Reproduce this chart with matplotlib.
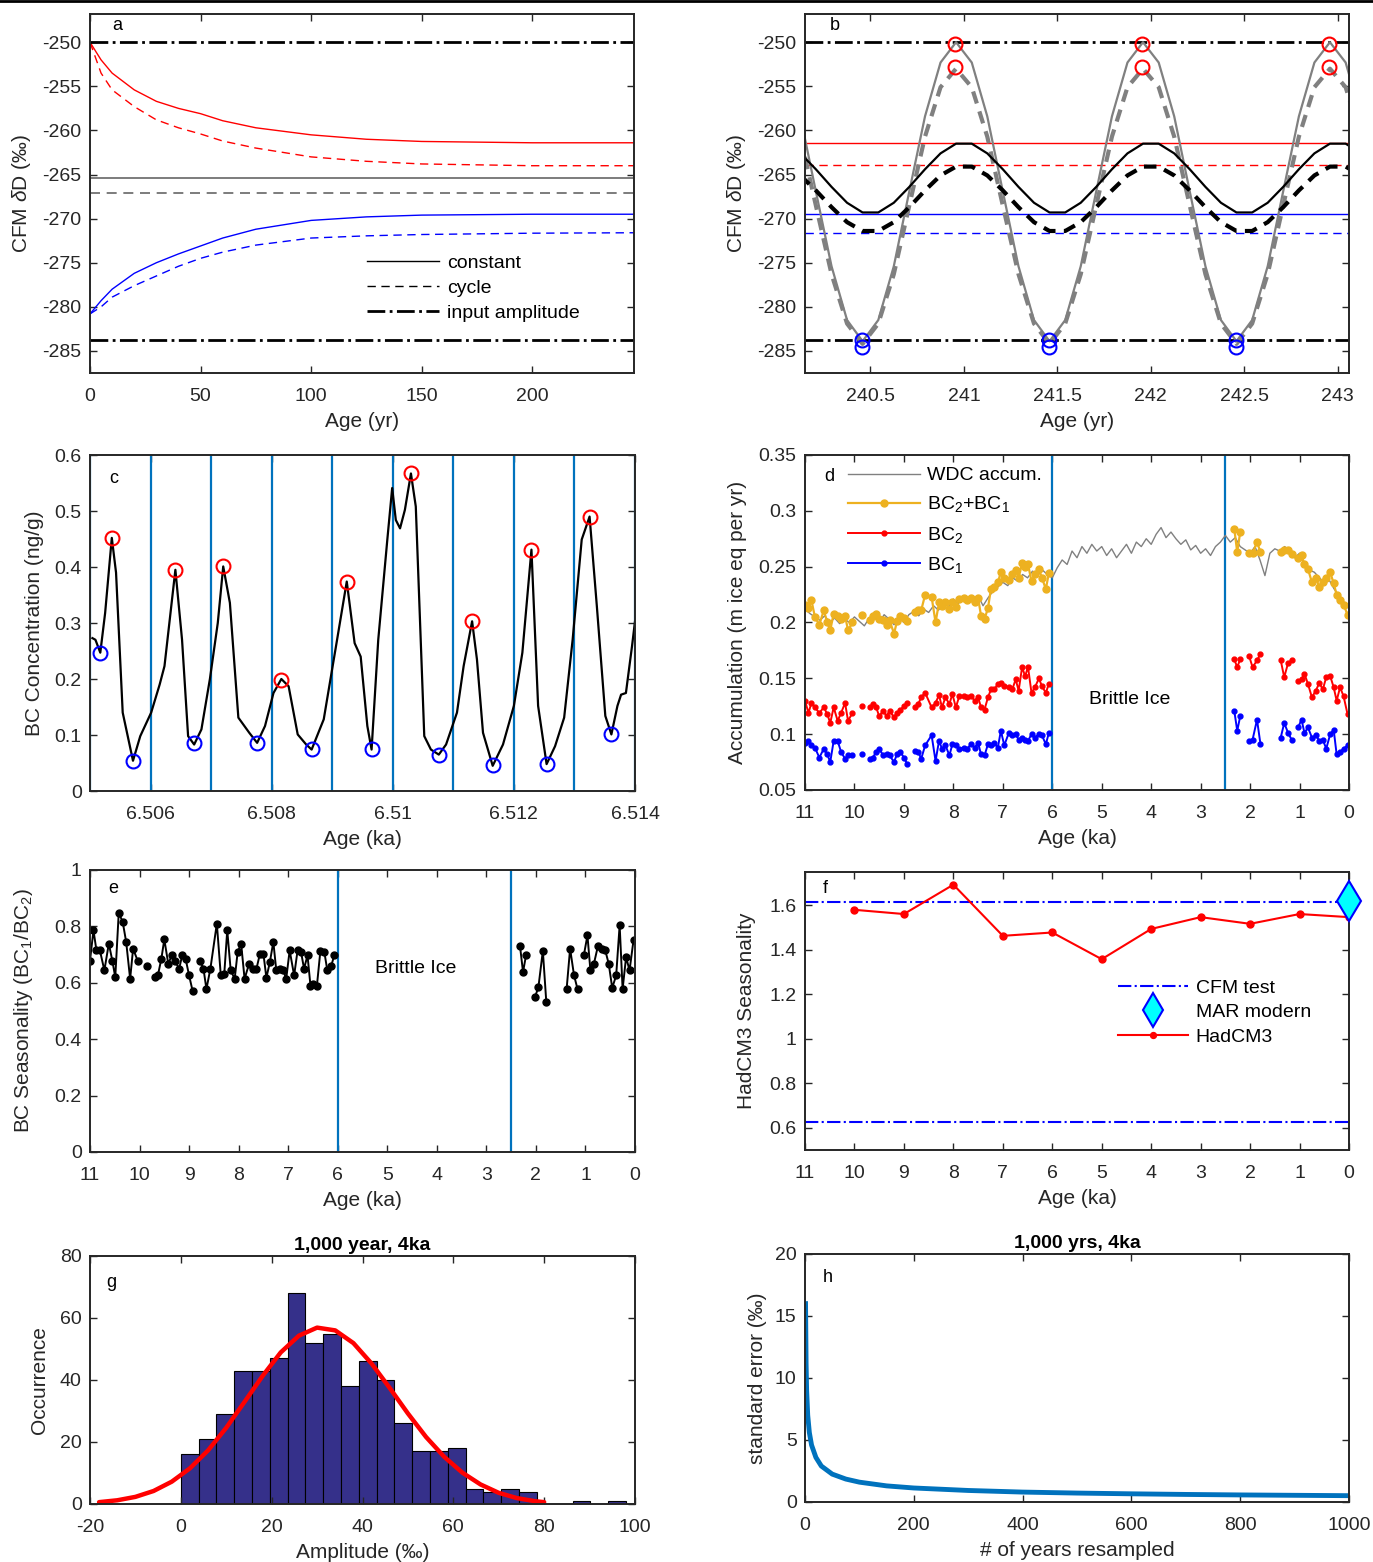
"""
Eight panel figure: CFM diffusion test, BC seasonality and accumulation
"""
import numpy as np
import matplotlib
matplotlib.use('Agg')
import matplotlib.pyplot as plt
from matplotlib.ticker import FuncFormatter, MultipleLocator
from matplotlib.lines import Line2D

plt.rcParams['font.family'] = ['Liberation Sans', 'DejaVu Sans']
plt.rcParams['mathtext.fontset'] = 'custom'
plt.rcParams['mathtext.rm'] = 'Liberation Sans'
plt.rcParams['mathtext.it'] = 'Liberation Sans:italic'
plt.rcParams['axes.unicode_minus'] = False

# ---------------- panel a: CFM run-in ----------------
a_age = [0, 5, 10, 20, 30, 40, 50, 60, 75, 100, 125, 150, 200, 246]
a_red_const = [-250.0, -252.0, -253.5, -255.4, -256.7, -257.5, -258.1, -258.9, -259.7, -260.5, -261.0, -261.25, -261.4, -261.4]
a_red_cycle = [-250.0, -253.5, -255.4, -257.3, -258.8, -259.7, -260.4, -261.2, -262.0, -263.0, -263.5, -263.8, -264.0, -264.0]
a_blue_const = [-280.8, -279.3, -278.0, -276.2, -275.0, -274.0, -273.1, -272.2, -271.2, -270.2, -269.8, -269.6, -269.5, -269.5]
a_blue_cycle = [-280.8, -280.0, -278.9, -277.6, -276.5, -275.4, -274.5, -273.8, -273.0, -272.2, -271.95, -271.8, -271.65, -271.6]
input_amp = [-250.0, -283.8]
mean_const = -265.4
mean_cycle = -267.1
steady = {'red_const': -261.4, 'red_cycle': -263.9, 'blue_const': -269.5, 'blue_cycle': -271.6}

# ---------------- panel b: steady state cycles ----------------
b_age = [240.125, 240.208, 240.292, 240.375, 240.458, 240.542, 240.625, 240.708, 240.792, 240.875, 240.958, 241.042,
         241.125, 241.208, 241.292, 241.375, 241.458, 241.542, 241.625, 241.708, 241.792, 241.875, 241.958, 242.042,
         242.125, 242.208, 242.292, 242.375, 242.458, 242.542, 242.625, 242.708, 242.792, 242.875, 242.958, 243.042,
         243.125]
b_input_const = [-258.4, -266.9, -275.4, -281.5, -283.9, -281.5, -275.4, -266.9, -258.4, -252.3, -250.0, -252.3,
                 -258.4, -266.9, -275.4, -281.5, -283.9, -281.5, -275.4, -266.9, -258.4, -252.3, -250.0, -252.3,
                 -258.4, -266.9, -275.4, -281.5, -283.9, -281.5, -275.4, -266.9, -258.4, -252.3, -250.0, -252.3,
                 -258.4]
b_input_cycle = [-260.7, -268.5, -276.3, -281.9, -284.2, -281.9, -276.3, -268.5, -260.7, -255.1, -253.0, -255.1,
                 -260.7, -268.5, -276.3, -281.9, -284.2, -281.9, -276.3, -268.5, -260.7, -255.1, -253.0, -255.1,
                 -260.7, -268.5, -276.3, -281.9, -284.2, -281.9, -276.3, -268.5, -260.7, -255.1, -253.0, -255.1,
                 -260.7]
b_cfm_const = [-262.6, -264.4, -266.4, -268.2, -269.3, -269.3, -268.2, -266.4, -264.4, -262.6, -261.5, -261.5,
               -262.6, -264.4, -266.4, -268.2, -269.3, -269.3, -268.2, -266.4, -264.4, -262.6, -261.5, -261.5,
               -262.6, -264.4, -266.4, -268.2, -269.3, -269.3, -268.2, -266.4, -264.4, -262.6, -261.5, -261.5,
               -262.6]
b_cfm_cycle = [-265.1, -266.8, -268.7, -270.4, -271.4, -271.4, -270.4, -268.7, -266.8, -265.1, -264.1, -264.1,
               -265.1, -266.8, -268.7, -270.4, -271.4, -271.4, -270.4, -268.7, -266.8, -265.1, -264.1, -264.1,
               -265.1, -266.8, -268.7, -270.4, -271.4, -271.4, -270.4, -268.7, -266.8, -265.1, -264.1, -264.1,
               -265.1]
b_max_age = [240.955, 240.955, 241.955, 241.955, 242.955, 242.955]
b_max_val = [-250.2, -252.8, -250.2, -252.8, -250.2, -252.8]
b_min_age = [240.455, 240.455, 241.455, 241.455, 242.455, 242.455]
b_min_val = [-283.8, -284.5, -283.8, -284.5, -283.8, -284.5]

# ---------------- panel c: BC record ----------------
c_age = [6.50504, 6.50509, 6.50517, 6.50525, 6.50536, 6.50543, 6.50554, 6.50571, 6.50583, 6.50601,
         6.50615, 6.50623, 6.50641, 6.50652, 6.50662, 6.50672, 6.50684, 6.50698, 6.50711, 6.50720,
         6.50731, 6.50745, 6.50763, 6.50776, 6.50789, 6.50803, 6.50816, 6.50828, 6.50843, 6.50857,
         6.50866, 6.50886, 6.50908, 6.50924, 6.50937, 6.50947, 6.50958, 6.50965, 6.50976, 6.50991,
         6.50999, 6.51005, 6.51012, 6.51020, 6.51030, 6.51038, 6.51052, 6.51063, 6.51076, 6.51088,
         6.51106, 6.51117, 6.51131, 6.51139, 6.51149, 6.51165, 6.51182, 6.51200, 6.51214, 6.51229,
         6.51240, 6.51254, 6.51268, 6.51283, 6.51297, 6.51312, 6.51325, 6.51337, 6.51351, 6.51361,
         6.51371, 6.51377, 6.51385, 6.51395, 6.51400]
c_bc = [0.273, 0.270, 0.247, 0.318, 0.452, 0.390, 0.140, 0.054, 0.098, 0.140,
        0.190, 0.223, 0.395, 0.270, 0.098, 0.083, 0.110, 0.200, 0.300, 0.401,
        0.336, 0.131, 0.104, 0.086, 0.116, 0.175, 0.200, 0.187, 0.101, 0.083,
        0.074, 0.128, 0.270, 0.374, 0.264, 0.240, 0.116, 0.074, 0.270, 0.449,
        0.541, 0.484, 0.469, 0.502, 0.567, 0.508, 0.098, 0.074, 0.065, 0.083,
        0.140, 0.223, 0.303, 0.235, 0.104, 0.045, 0.083, 0.152, 0.247, 0.431,
        0.152, 0.048, 0.080, 0.131, 0.270, 0.449, 0.490, 0.330, 0.134, 0.101,
        0.152, 0.172, 0.175, 0.258, 0.303]
c_peak_age = [6.50536, 6.50641, 6.50720, 6.50816, 6.50924, 6.51030, 6.51131, 6.51229, 6.51325]
c_peak_val = [0.452, 0.395, 0.401, 0.198, 0.374, 0.567, 0.303, 0.431, 0.490]
c_trough_age = [6.50517, 6.50571, 6.50672, 6.50776, 6.50866, 6.50965, 6.51076, 6.51165, 6.51254, 6.51361]
c_trough_val = [0.247, 0.054, 0.085, 0.086, 0.075, 0.075, 0.065, 0.046, 0.048, 0.102]
c_year_bounds = [6.505, 6.506, 6.507, 6.508, 6.509, 6.510, 6.511, 6.512, 6.513, 6.514]

# ---------------- panels d/e: Holocene BC seasons ----------------
nan = np.nan
bc_age = [11.0, 10.93, 10.87, 10.80, 10.71, 10.62, 10.55, 10.49, 10.42, 10.34, 10.27, 10.19, 10.13, 10.04,
          9.94, 9.84, 9.76,
          9.69, 9.63, 9.56, 9.50, 9.42, 9.35, 9.29, 9.20, 9.14, 9.07, 9.00, 8.93,
          8.85,
          8.78, 8.71, 8.65, 8.57, 8.44, 8.36, 8.29, 8.23, 8.16, 8.08, 8.02, 7.95, 7.88, 7.79, 7.72, 7.64, 7.57,
          7.50, 7.44, 7.37, 7.30, 7.24, 7.17, 7.10, 7.04, 6.97, 6.88, 6.81, 6.74, 6.68, 6.61, 6.55, 6.49, 6.42,
          6.35, 6.27, 6.21, 6.13, 6.07,
          4.0,
          2.32, 2.26, 2.20,
          2.10,
          2.02, 1.95, 1.86, 1.79,
          1.60,
          1.38, 1.31, 1.23, 1.16,
          1.10,
          1.03, 0.96, 0.90, 0.83, 0.75, 0.67, 0.60, 0.53, 0.46, 0.38, 0.31, 0.25, 0.18, 0.11, 0.03]
bc2_accum = [0.130, 0.119, 0.128, 0.124, 0.119, 0.124, 0.118, 0.110, 0.124, 0.112, 0.119, 0.128, 0.112, 0.119,
             nan, 0.125, nan,
             0.124, 0.127, 0.124, 0.116, 0.121, 0.116, 0.121, 0.115, 0.119, 0.122, 0.125, 0.128,
             nan,
             0.124, 0.127, 0.133, 0.137, 0.124, 0.128, 0.135, 0.124, 0.133, 0.127, 0.136, 0.124, 0.134, 0.134,
             0.133, 0.134, 0.130, 0.133, 0.124, 0.122, 0.133, 0.140, 0.140, 0.145, 0.146, 0.143, 0.142, 0.140,
             0.149, 0.139, 0.160, 0.152, 0.160, 0.137, 0.142, 0.150, 0.143, 0.137, 0.145,
             nan,
             0.167, 0.160, 0.167,
             nan,
             0.170, 0.160, 0.166, 0.172,
             nan,
             0.166, 0.151, 0.164, 0.166,
             nan,
             0.148, 0.149, 0.154, 0.145, 0.133, 0.139, 0.146, 0.140, 0.151, 0.152, 0.142, 0.130, 0.142, 0.134, 0.118]
bc1_accum = [0.092, 0.094, 0.090, 0.088, 0.079, 0.087, 0.082, 0.075, 0.094, 0.094, 0.084, 0.078, 0.081, 0.081,
             nan, 0.082, nan,
             0.078, 0.079, 0.084, 0.087, 0.081, 0.082, 0.081, 0.075, 0.082, 0.084, 0.079, 0.073,
             nan,
             0.085, 0.084, 0.078, 0.090, 0.099, 0.076, 0.094, 0.087, 0.090, 0.081, 0.091, 0.090, 0.087, 0.088,
             0.087, 0.091, 0.088, 0.092, 0.082, 0.081, 0.091, 0.090, 0.092, 0.088, 0.103, 0.090, 0.101, 0.099,
             0.100, 0.095, 0.097, 0.095, 0.094, 0.100, 0.097, 0.100, 0.099, 0.091, 0.101,
             nan,
             0.121, 0.103, 0.116,
             nan,
             0.094, 0.095, 0.113, 0.091,
             nan,
             0.097, 0.110, 0.101, 0.095,
             nan,
             0.106, 0.113, 0.101, 0.106, 0.097, 0.099, 0.094, 0.095, 0.087, 0.100, 0.104, 0.082, 0.084, 0.087, 0.090]
bc_total_accum = [0.216, 0.213, 0.220, 0.205, 0.198, 0.211, 0.200, 0.193, 0.208, 0.206, 0.203, 0.206, 0.193, 0.200,
                  nan, 0.207, nan,
                  0.202, 0.206, 0.208, 0.203, 0.202, 0.198, 0.202, 0.190, 0.201, 0.206, 0.204, 0.201,
                  nan,
                  0.209, 0.211, 0.211, 0.225, 0.223, 0.200, 0.218, 0.215, 0.218, 0.212, 0.218, 0.214, 0.221, 0.222,
                  0.220, 0.222, 0.218, 0.222, 0.206, 0.203, 0.213, 0.230, 0.232, 0.236, 0.245, 0.240, 0.238, 0.243,
                  0.247, 0.240, 0.253, 0.250, 0.252, 0.237, 0.243, 0.248, 0.240, 0.230, 0.244,
                  nan,
                  0.284, 0.263, 0.281,
                  nan,
                  0.262, 0.262, 0.272, 0.263,
                  nan,
                  0.263, 0.265, 0.265, 0.261,
                  nan,
                  0.258, 0.260, 0.252, 0.248, 0.236, 0.240, 0.232, 0.236, 0.240, 0.245, 0.235, 0.225, 0.220, 0.216, 0.207]
bc_ratio = [0.679, 0.786, 0.715, 0.715, 0.644, 0.739, 0.679, 0.620, 0.848, 0.816, 0.745, 0.614, 0.721, 0.679,
            nan, 0.658, nan,
            0.620, 0.626, 0.685, 0.754, 0.667, 0.697, 0.679, 0.650, 0.697, 0.685, 0.626, 0.572,
            nan,
            0.679, 0.650, 0.578, 0.650, 0.810, 0.626, 0.632, 0.786, 0.644, 0.614, 0.709, 0.739, 0.614, 0.667,
            0.650, 0.650, 0.703, 0.703, 0.618, 0.673, 0.745, 0.644, 0.650, 0.644, 0.614, 0.715, 0.626, 0.715,
            0.709, 0.650, 0.697, 0.590, 0.596, 0.590, 0.713, 0.709, 0.644, 0.661, 0.697,
            nan,
            0.729, 0.638, 0.697,
            nan,
            0.549, 0.584, 0.713, 0.531,
            nan,
            0.578, 0.721, 0.626, 0.578,
            nan,
            0.700, 0.768, 0.644, 0.667, 0.729, 0.721, 0.715, 0.667, 0.582, 0.626, 0.804, 0.578, 0.691, 0.644, 0.751]

wdc_age = [11.0, 10.9, 10.8, 10.7, 10.6, 10.5, 10.4, 10.3, 10.2, 10.1,
           10.0, 9.9, 9.8, 9.7, 9.6, 9.5, 9.4, 9.3, 9.2, 9.1,
           9.0, 8.9, 8.8, 8.7, 8.6, 8.5, 8.4, 8.3, 8.2, 8.1,
           8.0, 7.9, 7.8, 7.7, 7.6, 7.5, 7.4, 7.3, 7.2, 7.1,
           7.0, 6.9, 6.8, 6.7, 6.6, 6.5, 6.4, 6.3, 6.2, 6.1,
           6.0, 5.9, 5.8, 5.7, 5.6, 5.5, 5.4, 5.3, 5.2, 5.1,
           5.0, 4.9, 4.8, 4.7, 4.6, 4.5, 4.4, 4.3, 4.2, 4.1,
           4.0, 3.9, 3.8, 3.7, 3.6, 3.5, 3.4, 3.3, 3.2, 3.1,
           3.0, 2.9, 2.8, 2.7, 2.6, 2.5, 2.4, 2.3, 2.2, 2.1,
           2.0, 1.9, 1.8, 1.7, 1.6, 1.5, 1.4, 1.3, 1.2, 1.1,
           1.0, 0.9, 0.8, 0.7, 0.6, 0.5, 0.4, 0.3, 0.2, 0.1, 0.0]
wdc_accum = [0.212, 0.208, 0.205, 0.202, 0.206, 0.200, 0.204, 0.199, 0.203, 0.200,
             0.205, 0.201, 0.197, 0.204, 0.206, 0.200, 0.207, 0.203, 0.198, 0.204,
             0.200, 0.207, 0.210, 0.206, 0.212, 0.209, 0.215, 0.211, 0.218, 0.214,
             0.221, 0.217, 0.223, 0.218, 0.221, 0.224, 0.215, 0.222, 0.228, 0.232,
             0.236, 0.233, 0.240, 0.237, 0.243, 0.240, 0.246, 0.242, 0.247, 0.243,
             0.240, 0.249, 0.256, 0.252, 0.264, 0.258, 0.268, 0.262, 0.270, 0.264,
             0.268, 0.260, 0.266, 0.258, 0.264, 0.270, 0.262, 0.272, 0.268, 0.275,
             0.270, 0.279, 0.285, 0.276, 0.281, 0.275, 0.270, 0.274, 0.265, 0.269,
             0.262, 0.266, 0.260, 0.268, 0.272, 0.278, 0.272, 0.276, 0.268, 0.265,
             0.262, 0.268, 0.256, 0.242, 0.262, 0.266, 0.264, 0.268, 0.262, 0.258,
             0.262, 0.252, 0.247, 0.245, 0.240, 0.236, 0.238, 0.230, 0.224, 0.218, 0.212]
brittle_bounds = [6.0, 2.5]

# ---------------- panel f: HadCM3 ----------------
hadcm3_age = [10, 9, 8, 7, 6, 5, 4, 3, 2, 1, 0]
hadcm3_season = [1.580, 1.561, 1.693, 1.463, 1.478, 1.358, 1.494, 1.547, 1.517, 1.561, 1.547]
cfm_test = [1.615, 0.625]
mar_age = 0
mar_season = 1.62

# ---------------- panel g: amplitude histogram ----------------
g_edges = [0, 3.92, 7.84, 11.76, 15.68, 19.6, 23.52, 27.44, 31.36, 35.28, 39.2, 43.12, 47.04,
           50.96, 54.88, 58.8, 62.72, 66.64, 70.56, 74.48, 78.4, 82.32, 86.24, 90.16, 94.08, 98.0]
g_counts = [16, 21, 29, 43, 43, 47, 68, 52, 55, 38, 46, 40, 26, 17, 17, 18, 5, 4, 5, 4, 0, 0, 1, 0, 1]
g_fit_x = [-18, -14, -10, -6, -2, 2, 6, 10, 14, 18, 22, 26, 30, 34, 38, 42, 46, 50, 54, 58, 62, 66, 70, 74, 78, 80]
g_fit_y = [0.6, 1.2, 2.3, 4.2, 7.2, 11.5, 17.3, 24.6, 32.9, 41.3, 48.9, 54.3, 56.9, 56.0, 51.9, 45.3, 37.4,
           29.2, 21.6, 15.2, 10.1, 6.3, 3.6, 1.9, 0.9, 0.6]

# ---------------- panel h: resampling error ----------------
h_n = [1, 2, 3, 5, 8, 12, 20, 30, 50, 75, 100, 150, 200, 300, 400, 500, 600, 700, 800, 900, 1000]
h_se = [16.0, 11.2, 9.0, 7.0, 5.6, 4.6, 3.6, 2.9, 2.25, 1.85, 1.6, 1.3, 1.13, 0.93, 0.8, 0.72, 0.66, 0.61,
        0.57, 0.54, 0.51]

# ---------------- figure ----------------
W, H = 1373, 1562
fig = plt.figure(figsize=(W / 100, H / 100), dpi=100)
INK = '#262626'
MBLUE = '#0072BD'
GOLD = '#EDB120'
fmt = FuncFormatter(lambda v, p: f'{v:g}')


def make_ax(x0, y0, x1, y1):
    ax = fig.add_axes([x0 / W, 1 - y1 / H, (x1 - x0) / W, (y1 - y0) / H])
    for s in ax.spines.values():
        s.set_color(INK)
        s.set_linewidth(1.4)
    ax.tick_params(direction='in', top=True, right=True, length=5, width=1,
                   labelsize=14, color=INK, labelcolor=INK, pad=6)
    ax.tick_params(axis='x', pad=11)
    ax.xaxis.set_major_formatter(fmt)
    ax.yaxis.set_major_formatter(fmt)
    return ax


def label_ax(ax, xlabel, ylabel, letter, lx, ly, ycoord):
    ax.set_xlabel(xlabel, fontsize=15, color=INK, labelpad=5)
    ax.set_ylabel(ylabel, fontsize=15, color=INK)
    ax.yaxis.set_label_coords(ycoord, 0.5)
    ax.text(lx, ly, letter, transform=ax.transAxes, fontsize=13, ha='center', va='center')


# panel a
ax = make_ax(90, 14, 634, 373)
ax.plot(a_age, a_red_const, color='r', lw=1)
ax.plot(a_age, a_red_cycle, color='r', lw=1, ls='--', dashes=(6, 4))
ax.plot(a_age, a_blue_const, color='b', lw=1)
ax.plot(a_age, a_blue_cycle, color='b', lw=1, ls='--', dashes=(6, 4))
ax.axhline(mean_const, color='#666666', lw=1.2)
ax.axhline(mean_cycle, color='#666666', lw=1.2, ls='--', dashes=(6, 4))
for v in input_amp:
    ax.axhline(v, color='k', lw=2, ls='-.')
ax.set_xlim(0, 246)
ax.set_ylim(-287.5, -246.8)
ax.xaxis.set_major_locator(MultipleLocator(50))
ax.yaxis.set_major_locator(MultipleLocator(5))
handles = [Line2D([], [], color='k', lw=1),
           Line2D([], [], color='k', lw=1, ls='--', dashes=(6, 4)),
           Line2D([], [], color='k', lw=2, ls='-.')]
ax.legend(handles, ['constant', 'cycle', 'input amplitude'], loc='upper left',
          bbox_to_anchor=(0.51, 0.33), frameon=False, fontsize=14, handlelength=3.7,
          handletextpad=0.4, labelspacing=0.38, borderpad=0, borderaxespad=0)
label_ax(ax, 'Age (yr)', 'CFM $\\delta$D (‰)', 'a', 0.051, 0.967, -0.105)

# panel b
ax = make_ax(805, 14, 1349, 373)
for v in input_amp:
    ax.axhline(v, color='k', lw=2, ls='-.')
ax.axhline(steady['red_const'], color='r', lw=1)
ax.axhline(steady['red_cycle'], color='r', lw=1, ls='--', dashes=(6, 4))
ax.axhline(steady['blue_const'], color='b', lw=1)
ax.axhline(steady['blue_cycle'], color='b', lw=1, ls='--', dashes=(6, 4))
ax.plot(b_age, b_input_const, color='#808080', lw=1.6)
ax.plot(b_age, b_input_cycle, color='#808080', lw=3, ls='--', dashes=(3, 2))
ax.plot(b_age, b_cfm_const, color='k', lw=1.6)
ax.plot(b_age, b_cfm_cycle, color='k', lw=3, ls='--', dashes=(3, 2))
ax.plot(b_max_age, b_max_val, 'o', mfc='none', mec='r', ms=10, mew=1.5)
ax.plot(b_min_age, b_min_val, 'o', mfc='none', mec='b', ms=10, mew=1.5)
ax.set_xlim(240.15, 243.06)
ax.set_ylim(-287.5, -246.8)
ax.xaxis.set_major_locator(MultipleLocator(0.5))
ax.yaxis.set_major_locator(MultipleLocator(5))
label_ax(ax, 'Age (yr)', 'CFM $\\delta$D (‰)', 'b', 0.055, 0.967, -0.105)

# panel c
ax = make_ax(90, 455, 635, 791)
for v in c_year_bounds:
    ax.axvline(v, color=MBLUE, lw=1.6)
ax.plot(c_age, c_bc, color='k', lw=1.6)
ax.plot(c_peak_age, c_peak_val, 'o', mfc='none', mec='r', ms=10, mew=1.5)
ax.plot(c_trough_age, c_trough_val, 'o', mfc='none', mec='b', ms=10, mew=1.5)
ax.set_xlim(6.505, 6.514)
ax.set_ylim(0, 0.6)
ax.xaxis.set_major_locator(MultipleLocator(0.002))
ax.yaxis.set_major_locator(MultipleLocator(0.1))
label_ax(ax, 'Age (ka)', 'BC Concentration (ng/g)', 'c', 0.044, 0.93, -0.085)

# panel d
ax = make_ax(805, 455, 1349, 790)
for v in brittle_bounds:
    ax.axvline(v, color=MBLUE, lw=1.6)
ax.plot(wdc_age, wdc_accum, color='#808080', lw=1, label='WDC accum.')
ax.plot(bc_age, bc_total_accum, color=GOLD, lw=1.6, marker='o', ms=5, label='BC$_2$+BC$_1$')
ax.plot(bc_age, bc2_accum, color='r', lw=1.4, marker='o', ms=3.5, label='BC$_2$')
ax.plot(bc_age, bc1_accum, color='b', lw=1.4, marker='o', ms=3.5, label='BC$_1$')
ax.text(4.43, 0.131, 'Brittle Ice', fontsize=14, ha='center', va='center')
ax.set_xlim(11, 0)
ax.set_ylim(0.05, 0.35)
ax.xaxis.set_major_locator(MultipleLocator(1))
ax.yaxis.set_major_locator(MultipleLocator(0.05))
ax.legend(loc='upper left', bbox_to_anchor=(0.079, 0.965), frameon=False, fontsize=14,
          handlelength=3.7, handletextpad=0.35, labelspacing=0.52, borderpad=0, borderaxespad=0)
label_ax(ax, 'Age (ka)', 'Accumulation (m ice eq per yr)', 'd', 0.044, 0.937, -0.107)

# panel e
ax = make_ax(90, 870, 635, 1152)
for v in brittle_bounds:
    ax.axvline(v, color=MBLUE, lw=1.6)
ax.plot(bc_age, bc_ratio, color='k', lw=1.4, marker='o', ms=5)
ax.text(4.43, 0.652, 'Brittle Ice', fontsize=14, ha='center', va='center')
ax.set_xlim(11, 0)
ax.set_ylim(0, 1)
ax.xaxis.set_major_locator(MultipleLocator(1))
ax.yaxis.set_major_locator(MultipleLocator(0.2))
label_ax(ax, 'Age (ka)', 'BC Seasonality (BC$_1$/BC$_2$)', 'e', 0.042, 0.936, -0.1)

# panel f
ax = make_ax(805, 872, 1349, 1150)
ax.axhline(cfm_test[0], color='b', lw=1.5, ls='-.', label='CFM test')
ax.axhline(cfm_test[1], color='b', lw=1.5, ls='-.')
ax.plot([mar_age], [mar_season], 'd', ms=20, mfc='cyan', mec='b', mew=1.5,
        clip_on=False, zorder=5, label='MAR modern')
ax.plot(hadcm3_age, hadcm3_season, color='r', lw=1.5, marker='o', ms=5, label='HadCM3')
ax.set_xlim(11, 0)
ax.set_ylim(0.5, 1.75)
ax.xaxis.set_major_locator(MultipleLocator(1))
ax.yaxis.set_major_locator(MultipleLocator(0.2))
ax.legend(loc='upper left', bbox_to_anchor=(0.575, 0.615), frameon=False, fontsize=14,
          handlelength=3.6, handletextpad=0.4, labelspacing=0.36, borderpad=0, borderaxespad=0,
          markerscale=0.85)
label_ax(ax, 'Age (ka)', 'HadCM3 Seasonality', 'f', 0.037, 0.942, -0.09)

# panel g
ax = make_ax(90, 1256, 635, 1504)
ax.bar(g_edges[:-1], g_counts, width=np.diff(g_edges), align='edge',
       color='#35308A', edgecolor='k', lw=0.8)
ax.plot(g_fit_x, g_fit_y, color='r', lw=3.2, solid_capstyle='round')
ax.set_xlim(-20, 100)
ax.set_ylim(0, 80)
ax.xaxis.set_major_locator(MultipleLocator(20))
ax.yaxis.set_major_locator(MultipleLocator(20))
ax.set_title('1,000 year, 4ka', fontsize=14, fontweight='bold', pad=4)
label_ax(ax, 'Amplitude (‰)', 'Occurrence', 'g', 0.039, 0.895, -0.075)

# panel h
ax = make_ax(805, 1254, 1349, 1502)
ax.plot(h_n, h_se, color=MBLUE, lw=3.5)
ax.set_xlim(0, 1000)
ax.set_ylim(0, 20)
ax.xaxis.set_major_locator(MultipleLocator(200))
ax.yaxis.set_major_locator(MultipleLocator(5))
ax.set_title('1,000 yrs, 4ka', fontsize=14, fontweight='bold', pad=4)
label_ax(ax, '# of years resampled', 'standard error (‰)', 'h', 0.042, 0.907, -0.07)

fig.add_artist(Line2D([0, 1], [0.9993, 0.9993], color='k', lw=2, transform=fig.transFigure))

fig.savefig('out.png', dpi=100)
